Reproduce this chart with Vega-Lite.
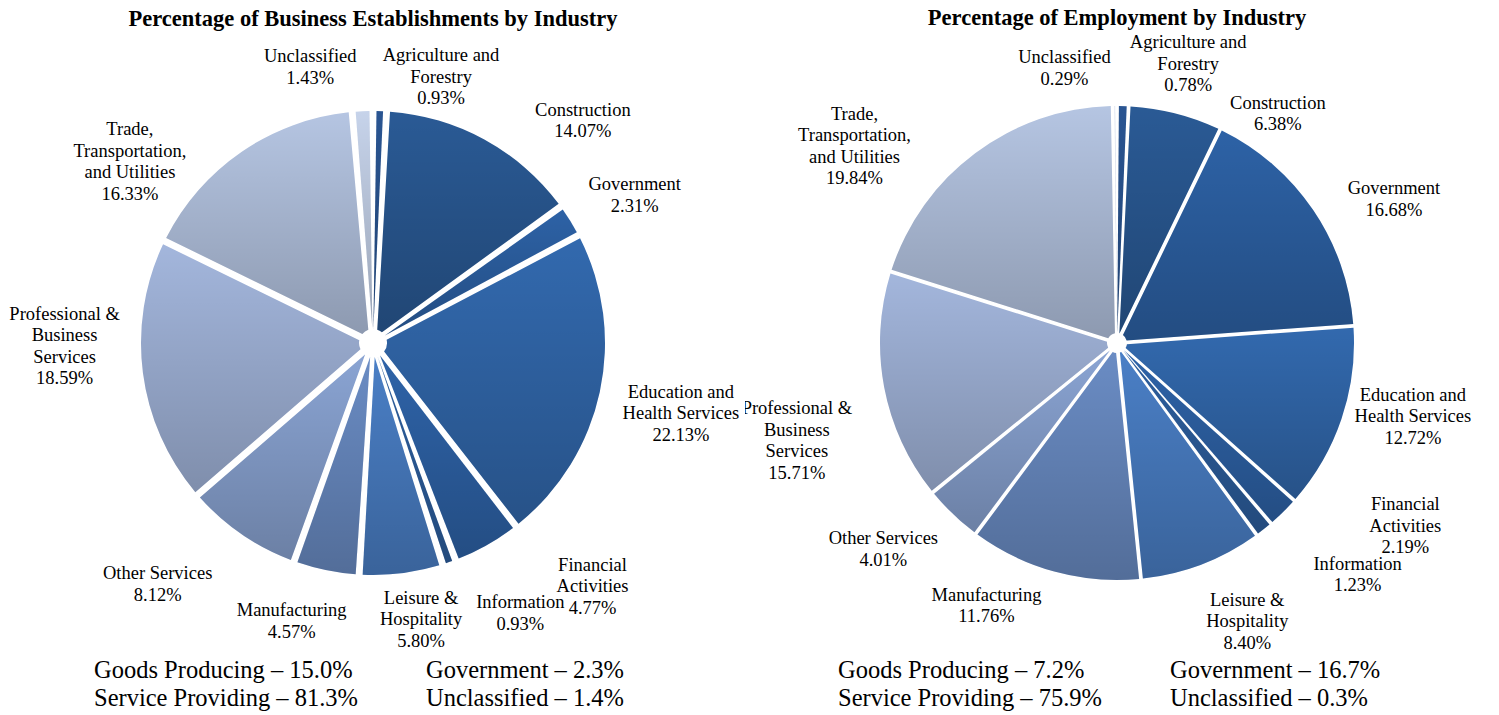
{
  "$schema": "https://vega.github.io/schema/vega-lite/v6.json",
  "padding": {"top": 6, "left": 0, "right": 0, "bottom": 0},
  "bounds": "flush",
  "spacing": 0,
  "columns": 2,
  "config": {
    "view": {"stroke": "transparent"},
    "font": "Liberation Serif",
    "title": {"font": "Liberation Serif", "fontSize": 22.5, "fontWeight": "bold", "color": "#000000", "anchor": "middle", "offset": 0},
    "text": {"font": "Liberation Serif", "fontSize": 18.5, "lineBreak": "\n", "lineHeight": 21.5, "fill": "#000000"}
  },
  "datasets": {
    "est": [
      {"i": 1, "cat": "Agriculture and Forestry", "v": 0.93, "label": "Agriculture and\nForestry\n0.93%"},
      {"i": 2, "cat": "Construction", "v": 14.07, "label": "Construction\n14.07%"},
      {"i": 3, "cat": "Government", "v": 2.31, "label": "Government\n2.31%"},
      {"i": 4, "cat": "Education and Health Services", "v": 22.13, "label": "Education and\nHealth Services\n22.13%"},
      {"i": 5, "cat": "Financial Activities", "v": 4.77, "label": "Financial\nActivities\n4.77%"},
      {"i": 6, "cat": "Information", "v": 0.93, "label": "Information\n0.93%"},
      {"i": 7, "cat": "Leisure & Hospitality", "v": 5.80, "label": "Leisure &\nHospitality\n5.80%"},
      {"i": 8, "cat": "Manufacturing", "v": 4.57, "label": "Manufacturing\n4.57%"},
      {"i": 9, "cat": "Other Services", "v": 8.12, "label": "Other Services\n8.12%"},
      {"i": 10, "cat": "Professional & Business Services", "v": 18.59, "label": "Professional &\nBusiness\nServices\n18.59%"},
      {"i": 11, "cat": "Trade, Transportation, and Utilities", "v": 16.33, "label": "Trade,\nTransportation,\nand Utilities\n16.33%"},
      {"i": 12, "cat": "Unclassified", "v": 1.43, "label": "Unclassified\n1.43%"}
    ],
    "emp": [
      {"i": 1, "cat": "Agriculture and Forestry", "v": 0.78, "label": "Agriculture and\nForestry\n0.78%"},
      {"i": 2, "cat": "Construction", "v": 6.38, "label": "Construction\n6.38%"},
      {"i": 3, "cat": "Government", "v": 16.68, "label": "Government\n16.68%"},
      {"i": 4, "cat": "Education and Health Services", "v": 12.72, "label": "Education and\nHealth Services\n12.72%"},
      {"i": 5, "cat": "Financial Activities", "v": 2.19, "label": "Financial\nActivities\n2.19%"},
      {"i": 6, "cat": "Information", "v": 1.23, "label": "Information\n1.23%"},
      {"i": 7, "cat": "Leisure & Hospitality", "v": 8.40, "label": "Leisure &\nHospitality\n8.40%"},
      {"i": 8, "cat": "Manufacturing", "v": 11.76, "label": "Manufacturing\n11.76%"},
      {"i": 9, "cat": "Other Services", "v": 4.01, "label": "Other Services\n4.01%"},
      {"i": 10, "cat": "Professional & Business Services", "v": 15.71, "label": "Professional &\nBusiness\nServices\n15.71%"},
      {"i": 11, "cat": "Trade, Transportation, and Utilities", "v": 19.84, "label": "Trade,\nTransportation,\nand Utilities\n19.84%"},
      {"i": 12, "cat": "Unclassified", "v": 0.29, "label": "Unclassified\n0.29%"}
    ],
    "sumL": [
      {"col": "a", "row": "a", "t": "Goods Producing – 15.0%"},
      {"col": "a", "row": "b", "t": "Service Providing – 81.3%"},
      {"col": "b", "row": "a", "t": "Government – 2.3%"},
      {"col": "b", "row": "b", "t": "Unclassified – 1.4%"}
    ],
    "sumR": [
      {"col": "a", "row": "a", "t": "Goods Producing – 7.2%"},
      {"col": "a", "row": "b", "t": "Service Providing – 75.9%"},
      {"col": "b", "row": "a", "t": "Government – 16.7%"},
      {"col": "b", "row": "b", "t": "Unclassified – 0.3%"}
    ]
  },
  "concat": [
    {
      "width": 744,
      "height": 618,
      "title": {"text": "Percentage of Business Establishments by Industry", "frame": "group"},
      "data": {"name": "est"},
      "encoding": {
        "theta": {"field": "v", "type": "quantitative", "stack": true},
        "order": {"field": "i", "type": "quantitative"},
        "detail": {"field": "cat", "type": "nominal"}
      },
      "layer": [
        {
          "mark": {"type": "arc", "outerRadius": 232, "innerRadius": 14, "padAngle": 0.03},
          "encoding": {
            "color": {
              "field": "cat", "type": "nominal", "legend": null,
              "scale": {
                "domain": ["Agriculture and Forestry", "Construction", "Government", "Education and Health Services", "Financial Activities", "Information", "Leisure & Hospitality", "Manufacturing", "Other Services", "Professional & Business Services", "Trade, Transportation, and Utilities", "Unclassified"],
                "range": ["#2a5592", "#2a5a95", "#2d62a6", "#3269ae", "#2e63a8", "#2d5f9f", "#4a7fc6", "#6a8cc4", "#8aa4d3", "#a3b6dc", "#b5c5e2", "#c6d3ea"]
              }
            }
          }
        },
        {
          "mark": {
            "type": "arc", "outerRadius": 232, "innerRadius": 14, "padAngle": 0.03,
            "fill": {"gradient": "linear", "x1": 0, "y1": 0, "x2": 0, "y2": 1, "stops": [{"offset": 0, "color": "rgba(0,0,0,0)"}, {"offset": 1, "color": "rgba(0,0,0,0.22)"}]}
          }
        },
        {"mark": {"type": "text", "clip": true, "radius": 276, "dx": 60, "dy": -12}, "encoding": {"text": {"condition": {"test": "datum.cat === 'Agriculture and Forestry'", "field": "label"}, "value": ""}}},
        {"mark": {"type": "text", "clip": true, "radius": 306, "dx": 63, "dy": 35}, "encoding": {"text": {"condition": {"test": "datum.cat === 'Construction'", "field": "label"}, "value": ""}}},
        {"mark": {"type": "text", "clip": true, "radius": 301, "dx": 6, "dy": 0}, "encoding": {"text": {"condition": {"test": "datum.cat === 'Government'", "field": "label"}, "value": ""}}},
        {"mark": {"type": "text", "clip": true, "radius": 316, "dx": -1, "dy": -18}, "encoding": {"text": {"condition": {"test": "datum.cat === 'Education and Health Services'", "field": "label"}, "value": ""}}},
        {"mark": {"type": "text", "clip": true, "radius": 327, "dx": 59, "dy": -63}, "encoding": {"text": {"condition": {"test": "datum.cat === 'Financial Activities'", "field": "label"}, "value": ""}}},
        {"mark": {"type": "text", "clip": true, "radius": 306, "dx": 47, "dy": -30}, "encoding": {"text": {"condition": {"test": "datum.cat === 'Information'", "field": "label"}, "value": ""}}},
        {"mark": {"type": "text", "clip": true, "radius": 279, "dx": 14, "dy": -22}, "encoding": {"text": {"condition": {"test": "datum.cat === 'Leisure & Hospitality'", "field": "label"}, "value": ""}}},
        {"mark": {"type": "text", "clip": true, "radius": 289, "dx": -23, "dy": -16}, "encoding": {"text": {"condition": {"test": "datum.cat === 'Manufacturing'", "field": "label"}, "value": ""}}},
        {"mark": {"type": "text", "clip": true, "radius": 322, "dx": -33, "dy": -35}, "encoding": {"text": {"condition": {"test": "datum.cat === 'Other Services'", "field": "label"}, "value": ""}}},
        {"mark": {"type": "text", "clip": true, "radius": 308, "dx": -3, "dy": -69}, "encoding": {"text": {"condition": {"test": "datum.cat === 'Professional & Business Services'", "field": "label"}, "value": ""}}},
        {"mark": {"type": "text", "clip": true, "radius": 307, "dx": -69, "dy": 39}, "encoding": {"text": {"condition": {"test": "datum.cat === 'Trade, Transportation, and Utilities'", "field": "label"}, "value": ""}}},
        {"mark": {"type": "text", "clip": true, "radius": 284, "dx": -50, "dy": -3}, "encoding": {"text": {"condition": {"test": "datum.cat === 'Unclassified'", "field": "label"}, "value": ""}}}
      ]
    },
    {
      "width": 744,
      "height": 618,
      "title": {"text": "Percentage of Employment by Industry", "frame": "group"},
      "data": {"name": "emp"},
      "encoding": {
        "theta": {"field": "v", "type": "quantitative", "stack": true},
        "order": {"field": "i", "type": "quantitative"},
        "detail": {"field": "cat", "type": "nominal"}
      },
      "layer": [
        {
          "mark": {"type": "arc", "outerRadius": 237, "innerRadius": 10, "padAngle": 0.016},
          "encoding": {
            "color": {
              "field": "cat", "type": "nominal", "legend": null,
              "scale": {
                "domain": ["Agriculture and Forestry", "Construction", "Government", "Education and Health Services", "Financial Activities", "Information", "Leisure & Hospitality", "Manufacturing", "Other Services", "Professional & Business Services", "Trade, Transportation, and Utilities", "Unclassified"],
                "range": ["#2a5592", "#2a5a95", "#2d62a6", "#3269ae", "#2e63a8", "#2d5f9f", "#4a7fc6", "#6a8cc4", "#8aa4d3", "#a3b6dc", "#b5c5e2", "#c6d3ea"]
              }
            }
          }
        },
        {
          "mark": {
            "type": "arc", "outerRadius": 237, "innerRadius": 10, "padAngle": 0.016,
            "fill": {"gradient": "linear", "x1": 0, "y1": 0, "x2": 0, "y2": 1, "stops": [{"offset": 0, "color": "rgba(0,0,0,0)"}, {"offset": 1, "color": "rgba(0,0,0,0.22)"}]}
          }
        },
        {"mark": {"type": "text", "radius": 293, "dx": 64, "dy": -8}, "encoding": {"text": {"condition": {"test": "datum.cat === 'Agriculture and Forestry'", "field": "label"}, "value": ""}}},
        {"mark": {"type": "text", "clip": true, "radius": 283, "dx": 91, "dy": 34}, "encoding": {"text": {"condition": {"test": "datum.cat === 'Construction'", "field": "label"}, "value": ""}}},
        {"mark": {"type": "text", "clip": true, "radius": 313, "dx": 18, "dy": 21}, "encoding": {"text": {"condition": {"test": "datum.cat === 'Government'", "field": "label"}, "value": ""}}},
        {"mark": {"type": "text", "clip": true, "radius": 304, "dx": 8, "dy": -46}, "encoding": {"text": {"condition": {"test": "datum.cat === 'Education and Health Services'", "field": "label"}, "value": ""}}},
        {"mark": {"type": "text", "clip": true, "radius": 339, "dx": 51, "dy": -81}, "encoding": {"text": {"condition": {"test": "datum.cat === 'Financial Activities'", "field": "label"}, "value": ""}}},
        {"mark": {"type": "text", "clip": true, "radius": 332, "dx": 35, "dy": -40}, "encoding": {"text": {"condition": {"test": "datum.cat === 'Information'", "field": "label"}, "value": ""}}},
        {"mark": {"type": "text", "clip": true, "radius": 303, "dx": 22, "dy": -26}, "encoding": {"text": {"condition": {"test": "datum.cat === 'Leisure & Hospitality'", "field": "label"}, "value": ""}}},
        {"mark": {"type": "text", "clip": true, "radius": 289, "dx": -54, "dy": -27}, "encoding": {"text": {"condition": {"test": "datum.cat === 'Manufacturing'", "field": "label"}, "value": ""}}},
        {"mark": {"type": "text", "clip": true, "radius": 309, "dx": -20, "dy": -28}, "encoding": {"text": {"condition": {"test": "datum.cat === 'Other Services'", "field": "label"}, "value": ""}}},
        {"mark": {"type": "text", "clip": true, "radius": 334, "dx": 8, "dy": 3}, "encoding": {"text": {"condition": {"test": "datum.cat === 'Professional & Business Services'", "field": "label"}, "value": ""}}},
        {"mark": {"type": "text", "clip": true, "radius": 330, "dx": -65, "dy": 35}, "encoding": {"text": {"condition": {"test": "datum.cat === 'Trade, Transportation, and Utilities'", "field": "label"}, "value": ""}}},
        {"mark": {"type": "text", "clip": true, "radius": 284, "dx": -50, "dy": -2}, "encoding": {"text": {"condition": {"test": "datum.cat === 'Unclassified'", "field": "label"}, "value": ""}}}
      ]
    },
    {
      "width": 744,
      "height": 64,
      "data": {"name": "sumL"},
      "mark": {"type": "text", "align": "left", "baseline": "middle", "fontSize": 24.5},
      "encoding": {
        "x": {"field": "col", "type": "ordinal", "scale": {"type": "point", "range": [93, 425], "padding": 0}, "axis": null},
        "y": {"field": "row", "type": "ordinal", "scale": {"type": "point", "range": [19, 47], "padding": 0}, "axis": null},
        "text": {"field": "t", "type": "nominal"}
      }
    },
    {
      "width": 744,
      "height": 64,
      "data": {"name": "sumR"},
      "mark": {"type": "text", "align": "left", "baseline": "middle", "fontSize": 24.5},
      "encoding": {
        "x": {"field": "col", "type": "ordinal", "scale": {"type": "point", "range": [93, 425], "padding": 0}, "axis": null},
        "y": {"field": "row", "type": "ordinal", "scale": {"type": "point", "range": [19, 47], "padding": 0}, "axis": null},
        "text": {"field": "t", "type": "nominal"}
      }
    }
  ]
}
